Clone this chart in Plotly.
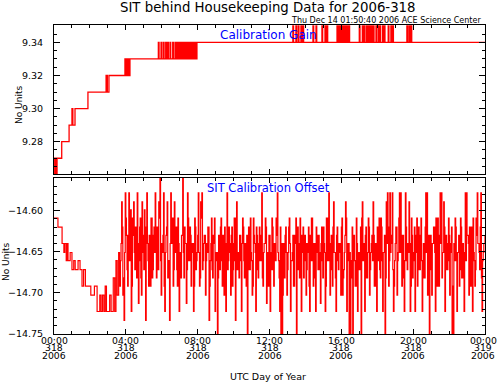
import plotly.graph_objects as go

TITLE = "SIT behind Housekeeping Data for 2006-318"
SUBTITLE = "Thu Dec 14 01:50:40 2006 ACE Science Center"
GAIN_LABEL = "Calibration Gain"
OFFSET_LABEL = "SIT Calibration Offset"
Y_TITLE = "No Units"
X_TITLE = "UTC Day of Year"

# x tick labels (hours since 00:00 of day 318)
tick_hours = [0, 4, 8, 12, 16, 20, 24]
tick_time = ["00:00", "04:00", "08:00", "12:00", "16:00", "20:00", "00:00"]
tick_doy = ["318", "318", "318", "318", "318", "318", "319"]
tick_year = ["2006"] * 7

# ---- Calibration gain ----
gain_step_t = [0.00, 0.04, 0.08, 0.12, 0.17, 0.43, 0.84, 1.00, 1.05, 1.17, 1.89,
               2.90, 2.97, 3.06, 3.95, 4.00, 4.05, 4.10, 4.15, 4.20, 4.23]
gain_step_v = [9.27, 9.26, 9.27, 9.26, 9.27, 9.28, 9.29, 9.30, 9.29, 9.30, 9.31,
               9.32, 9.31, 9.32, 9.33, 9.32, 9.33, 9.32, 9.33, 9.32, 9.33]
gain_base_v = 9.33
gain_up1_t = [5.81, 5.96, 6.09, 6.22, 6.33, 6.46, 6.61, 6.74, 6.82, 6.88, 6.95,
              7.03, 7.10, 7.17, 7.25, 7.32, 7.40, 7.48, 7.56, 7.64, 7.72, 7.80, 7.90]
gain_up1_v = 9.34
gain_settle_t = 7.96
gain_settle_v = 9.34
gain_up2_t = [13.30, 13.47, 13.60, 13.75, 13.86,
              14.42, 14.59, 14.92, 15.09, 15.20,
              15.76, 15.87, 15.98, 16.09, 16.20, 16.31, 16.42,
              17.00, 17.17, 17.28, 17.41, 17.50, 17.59, 17.69, 17.78, 17.93,
              18.06, 18.15, 18.30, 18.39, 18.61, 18.76, 18.86,
              19.65, 19.77, 19.88]
gain_up2_v = 9.35
gain_end_t = 24.0
GAIN_SAMPLE_H = 0.04

# ---- Calibration offset ----
off_early_t = [0.00, 0.22, 0.45, 0.55, 0.60, 0.68, 0.72, 0.78, 0.90, 1.00, 1.10,
               1.18, 1.34, 1.45, 1.56, 1.65, 1.75, 2.05, 2.25, 2.40, 2.55, 2.62,
               2.70, 2.78, 2.85, 2.92, 3.10, 3.18, 3.30, 3.38, 3.45, 3.52, 3.60, 3.65]
off_early_v = [-14.609, -14.620, -14.640, -14.651, -14.640, -14.661, -14.640, -14.661,
               -14.651, -14.672, -14.661, -14.672, -14.661, -14.672, -14.692, -14.672,
               -14.692, -14.703, -14.692, -14.723, -14.703, -14.723, -14.703, -14.723,
               -14.692, -14.723, -14.703, -14.723, -14.682, -14.723, -14.661, -14.703,
               -14.651, -14.692]
OFF_START_H = 3.70
OFF_SAMPLE_H = 2 / 60  # 2-minute cadence; even samples in off_v_even, odd in off_v_odd
off_v_even = [
    -14.661, -14.589, -14.703, -14.734, -14.578, -14.630, -14.692, -14.578, -14.651, -14.723,
    -14.609, -14.589, -14.672, -14.640, -14.578, -14.713, -14.620, -14.682, -14.589, -14.651,
    -14.599, -14.734, -14.578, -14.661, -14.630, -14.692, -14.609, -14.672, -14.620, -14.578,
    -14.682, -14.640, -14.589, -14.557, -14.703, -14.651, -14.578, -14.723, -14.630, -14.589,
    -14.661, -14.734, -14.578, -14.640, -14.692, -14.589, -14.620, -14.672, -14.609, -14.723,
    -14.651, -14.630, -14.557, -14.682, -14.640, -14.713, -14.578, -14.661, -14.620, -14.692,
    -14.640, -14.723, -14.609, -14.672, -14.651, -14.578, -14.692, -14.589, -14.578, -14.661,
    -14.630, -14.703, -14.640, -14.620, -14.734, -14.661, -14.609, -14.682, -14.640, -14.723,
    -14.651, -14.755, -14.630, -14.672, -14.609, -14.692, -14.640, -14.620, -14.723, -14.578,
    -14.661, -14.640, -14.703, -14.620, -14.672, -14.609, -14.734, -14.589, -14.651, -14.682,
    -14.630, -14.723, -14.609, -14.661, -14.640, -14.692, -14.755, -14.620, -14.672, -14.651,
    -14.703, -14.609, -14.640, -14.723, -14.630, -14.682, -14.620, -14.661, -14.578, -14.692,
    -14.640, -14.609, -14.713, -14.651, -14.630, -14.723, -14.672, -14.620, -14.692, -14.640,
    -14.609, -14.578, -14.661, -14.723, -14.755, -14.755, -14.640, -14.682, -14.620, -14.703,
    -14.651, -14.609, -14.723, -14.661, -14.630, -14.692, -14.640, -14.755, -14.620, -14.672,
    -14.609, -14.723, -14.651, -14.682, -14.630, -14.703, -14.640, -14.620, -14.723, -14.661,
    -14.609, -14.692, -14.640, -14.723, -14.630, -14.672, -14.651, -14.713, -14.620, -14.682,
    -14.640, -14.723, -14.609, -14.661, -14.578, -14.703, -14.630, -14.692, -14.589, -14.651,
    -14.723, -14.620, -14.672, -14.640, -14.703, -14.609, -14.682, -14.651, -14.589, -14.723,
    -14.640, -14.755, -14.755, -14.661, -14.755, -14.630, -14.692, -14.609, -14.723, -14.651,
    -14.672, -14.755, -14.589, -14.640, -14.723, -14.620, -14.682, -14.609, -14.703, -14.651,
    -14.630, -14.589, -14.692, -14.640, -14.723, -14.661, -14.609, -14.682, -14.620, -14.723,
    -14.651, -14.755, -14.589, -14.578, -14.692, -14.578, -14.640, -14.578, -14.723, -14.661,
    -14.620, -14.703, -14.651, -14.578, -14.578, -14.692, -14.630, -14.723, -14.578, -14.661,
    -14.640, -14.589, -14.723, -14.609, -14.682, -14.651, -14.723, -14.630, -14.692, -14.620,
    -14.672, -14.609, -14.723, -14.640, -14.682, -14.578, -14.578, -14.651, -14.755, -14.630,
    -14.703, -14.640, -14.620, -14.723, -14.661, -14.609, -14.692, -14.578, -14.578, -14.651,
    -14.589, -14.723, -14.630, -14.672, -14.609, -14.703, -14.640, -14.755, -14.755, -14.661,
    -14.620, -14.723, -14.651, -14.692, -14.609, -14.682, -14.640, -14.723, -14.578, -14.578,
    -14.630, -14.703, -14.661, -14.620, -14.723, -14.651, -14.692, -14.609, -14.578, -14.640,
    -14.672, -14.578, -14.723, -14.651, -14.640,
]
off_v_odd = [
    -14.640, -14.620, -14.682, -14.651, -14.609, -14.672, -14.630, -14.661, -14.599, -14.692,
    -14.630, -14.651, -14.620, -14.682, -14.640, -14.661, -14.609, -14.703, -14.630, -14.672,
    -14.651, -14.620, -14.640, -14.692, -14.661, -14.609, -14.682, -14.630, -14.651, -14.640,
    -14.620, -14.672, -14.609, -14.661, -14.640, -14.630, -14.692, -14.651, -14.620, -14.682,
    -14.661, -14.640, -14.630, -14.609, -14.672, -14.651, -14.620, -14.692, -14.640, -14.661,
    -14.682, -14.630, -14.651, -14.620, -14.640, -14.672, -14.609, -14.661, -14.630, -14.651,
    -14.640, -14.692, -14.620, -14.661, -14.630, -14.651, -14.682, -14.609, -14.672, -14.640,
    -14.630, -14.661, -14.651, -14.620, -14.692, -14.640, -14.672, -14.630, -14.609, -14.661,
    -14.651, -14.682, -14.640, -14.620, -14.661, -14.630, -14.703, -14.651, -14.640, -14.672,
    -14.620, -14.651, -14.630, -14.692, -14.640, -14.661, -14.609, -14.672, -14.651, -14.630,
    -14.661, -14.640, -14.620, -14.682, -14.651, -14.630, -14.672, -14.640, -14.609, -14.661,
    -14.692, -14.630, -14.651, -14.620, -14.672, -14.640, -14.661, -14.630, -14.682, -14.651,
    -14.640, -14.620, -14.661, -14.692, -14.630, -14.651, -14.609, -14.672, -14.640, -14.661,
    -14.630, -14.651, -14.682, -14.620, -14.640, -14.703, -14.661, -14.630, -14.651, -14.672,
    -14.620, -14.640, -14.661, -14.651, -14.692, -14.630, -14.609, -14.672, -14.640, -14.682,
    -14.651, -14.630, -14.620, -14.661, -14.640, -14.672, -14.651, -14.692, -14.630, -14.609,
    -14.661, -14.640, -14.682, -14.620, -14.651, -14.630, -14.672, -14.640, -14.661, -14.620,
    -14.651, -14.692, -14.630, -14.609, -14.661, -14.640, -14.672, -14.620, -14.651, -14.682,
    -14.630, -14.661, -14.640, -14.651, -14.620, -14.703, -14.672, -14.630, -14.609, -14.661,
    -14.640, -14.651, -14.682, -14.620, -14.630, -14.661, -14.692, -14.640, -14.651, -14.672,
    -14.620, -14.609, -14.661, -14.640, -14.630, -14.682, -14.651, -14.620, -14.672, -14.640,
    -14.661, -14.630, -14.651, -14.692, -14.620, -14.640, -14.672, -14.609, -14.661, -14.651,
    -14.630, -14.682, -14.640, -14.620, -14.661, -14.651, -14.630, -14.672, -14.692, -14.640,
    -14.620, -14.661, -14.609, -14.651, -14.640, -14.630, -14.682, -14.661, -14.620, -14.672,
    -14.651, -14.640, -14.692, -14.630, -14.661, -14.620, -14.651, -14.609, -14.672, -14.640,
    -14.630, -14.661, -14.682, -14.640, -14.620, -14.651, -14.703, -14.630, -14.661, -14.672,
    -14.640, -14.620, -14.651, -14.609, -14.692, -14.661, -14.630, -14.640, -14.682, -14.651,
    -14.620, -14.672, -14.640, -14.661, -14.630, -14.651, -14.620, -14.692, -14.640, -14.609,
    -14.661, -14.651, -14.630, -14.672, -14.620, -14.640, -14.682, -14.651, -14.661, -14.630,
    -14.640, -14.620, -14.692, -14.651, -14.609, -14.661, -14.672, -14.630, -14.640, -14.651,
    -14.620, -14.682, -14.661, -14.640, -14.630,
]
off_end_t = 24.0

# ---- build series ----
gt = list(gain_step_t)
gv = list(gain_step_v)
for t in gain_up1_t:
    gt += [t, t + GAIN_SAMPLE_H]
    gv += [gain_up1_v, gain_base_v]
gt.append(gain_settle_t)
gv.append(gain_settle_v)
for t in gain_up2_t:
    gt += [t, t + GAIN_SAMPLE_H]
    gv += [gain_up2_v, gain_settle_v]
gt.append(gain_end_t)
gv.append(gain_settle_v)

off_v = []
for a, b in zip(off_v_even, off_v_odd):
    off_v += [a, b]
ot = list(off_early_t)
ov = list(off_early_v)
for i, v in enumerate(off_v):
    ot.append(OFF_START_H + i * OFF_SAMPLE_H)
    ov.append(v)
ot.append(off_end_t)
ov.append(off_v[-1])

# ---- layout geometry (pixels) ----
W, H = 497, 382
L, R, T, B = 54, 485, 25, 334


def px_x(px):
    return (px - L) / (R - L)


def px_y(py):
    return (B - py) / (B - T)


RED = "#ff0000"
FONT = "DejaVu Sans"

fig = go.Figure()
fig.add_trace(go.Scatter(x=gt, y=gv, mode="lines", line=dict(color=RED, width=1.3, shape="hv"),
                         xaxis="x", yaxis="y", showlegend=False, hoverinfo="skip"))
fig.add_trace(go.Scatter(x=ot, y=ov, mode="lines", line=dict(color=RED, width=1.2, shape="hv"),
                         xaxis="x2", yaxis="y2", showlegend=False, hoverinfo="skip"))

axis_common = dict(showline=True, linecolor="black", linewidth=1, mirror="allticks",
                   ticks="inside", tickcolor="black", showgrid=False, zeroline=False,
                   automargin=False)

fig.update_layout(
    width=W, height=H,
    margin=dict(l=L, r=W - R, t=T, b=H - B, pad=0, autoexpand=False),
    paper_bgcolor="white", plot_bgcolor="white",
    font=dict(family=FONT, color="black", size=9),
    xaxis=dict(domain=[0, 1], anchor="y", range=[0, 24], dtick=4, tick0=0,
               showticklabels=False, ticklen=5,
               minor=dict(dtick=1, ticks="inside", ticklen=3, tickcolor="black"),
               **axis_common),
    yaxis=dict(domain=[px_y(174), 1], anchor="x", range=[9.2605, 9.3505],
               dtick=0.02, tick0=9.28, tickformat=".2f", ticklen=6,
               ticklabelstandoff=8, tickfont=dict(size=9.5),
               minor=dict(dtick=0.005, ticks="inside", ticklen=3, tickcolor="black"),
               **axis_common),
    xaxis2=dict(domain=[0, 1], anchor="y2", range=[0, 24], dtick=4, tick0=0,
                showticklabels=False, ticklen=5,
                minor=dict(dtick=1, ticks="inside", ticklen=3, tickcolor="black"),
                **axis_common),
    yaxis2=dict(domain=[0, px_y(178)], anchor="x2", range=[-14.7505, -14.56],
                dtick=0.05, tick0=-14.75, tickformat=".2f", ticklen=6,
                ticklabelstandoff=8, tickfont=dict(size=9.5),
                minor=dict(dtick=0.01, ticks="inside", ticklen=3, tickcolor="black"),
                **axis_common),
)

ann = []
ann.append(dict(text=TITLE, x=px_x(268), y=px_y(7), xref="paper", yref="paper",
                xanchor="center", yanchor="middle", showarrow=False,
                font=dict(size=13.3, color="black")))
ann.append(dict(text=SUBTITLE, x=px_x(483), y=px_y(21), xref="paper", yref="paper",
                xanchor="right", yanchor="middle", showarrow=False,
                font=dict(size=8, color="black")))
ann.append(dict(text=GAIN_LABEL, x=px_x(268), y=px_y(35), xref="paper", yref="paper",
                xanchor="center", yanchor="middle", showarrow=False,
                font=dict(size=12, color="#0000ff")))
ann.append(dict(text=OFFSET_LABEL, x=px_x(268), y=px_y(188), xref="paper", yref="paper",
                xanchor="center", yanchor="middle", showarrow=False,
                font=dict(size=11.5, color="#0000ff")))
for xc, yc in ((19, 105), (6, 262)):
    ann.append(dict(text=Y_TITLE, x=px_x(xc), y=px_y(yc), xref="paper", yref="paper",
                    xanchor="center", yanchor="middle", textangle=-90, showarrow=False,
                    font=dict(size=9, color="black")))
for h, a, b, c in zip(tick_hours, tick_time, tick_doy, tick_year):
    shift = -2 if h == tick_hours[-1] else 0
    for txt, yc in ((a, 340.5), (b, 348), (c, 355.5)):
        ann.append(dict(text=txt, x=h, y=px_y(yc), xref="x2", yref="paper",
                        xanchor="center", yanchor="middle", showarrow=False, xshift=shift,
                        borderpad=0, font=dict(size=9.3, color="black")))
ann.append(dict(text=X_TITLE, x=px_x(268), y=px_y(376), xref="paper", yref="paper",
                xanchor="center", yanchor="middle", showarrow=False,
                font=dict(size=9.5, color="black")))
fig.update_layout(annotations=ann)

fig.write_html("out.html", config={"displayModeBar": False},
               post_script="document.body.style.margin='0';document.body.style.overflow='hidden';")
